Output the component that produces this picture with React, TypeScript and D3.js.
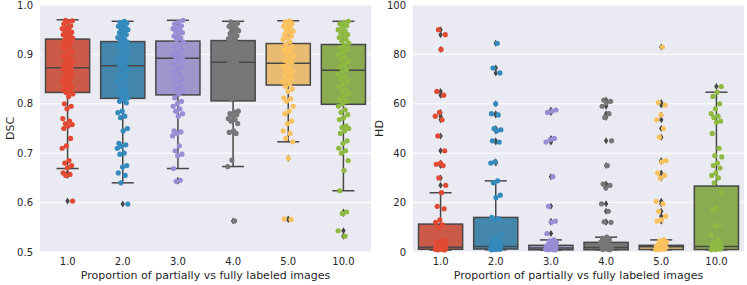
import React from "react";
import * as d3 from "d3";

// categories on the x axis and the ggplot-like palette
const categories = ["1.0", "2.0", "3.0", "4.0", "5.0", "10.0"];
const palette = ["#E24A33", "#348ABD", "#988ED5", "#777777", "#FBC15E", "#8EBA42"];

// DSC per image, one list per proportion
const dscPoints: number[][] = [
  [0.969, 0.968, 0.966, 0.962, 0.958, 0.955, 0.952, 0.95, 0.948, 0.945, 0.942, 0.94, 0.938, 0.935, 0.933,
    0.93, 0.928, 0.925, 0.922, 0.918, 0.915, 0.91, 0.905, 0.9, 0.897, 0.893, 0.89, 0.886, 0.882, 0.879, 0.876, 0.874,
    0.871, 0.868, 0.865, 0.862, 0.858, 0.855, 0.852, 0.848, 0.845, 0.842, 0.838, 0.835, 0.832, 0.828, 0.825, 0.823,
    0.82, 0.815, 0.8, 0.795, 0.79, 0.77, 0.765, 0.76, 0.758, 0.755, 0.75, 0.73, 0.715, 0.71, 0.685, 0.68, 0.675,
    0.67, 0.66, 0.657, 0.655, 0.603],
  [0.967, 0.965, 0.963, 0.96, 0.957, 0.954, 0.952, 0.95, 0.947, 0.944, 0.94, 0.937, 0.934, 0.93, 0.928,
    0.925, 0.921, 0.917, 0.913, 0.908, 0.903, 0.898, 0.894, 0.89, 0.886, 0.882, 0.879,
    0.875, 0.87, 0.865, 0.86, 0.855, 0.85, 0.845, 0.84, 0.835, 0.83, 0.826, 0.822, 0.818, 0.815, 0.812,
    0.808, 0.805, 0.802, 0.785, 0.782, 0.775, 0.772, 0.75, 0.745, 0.72, 0.717, 0.714, 0.71, 0.7, 0.698, 0.675,
    0.672, 0.66, 0.655, 0.64, 0.597],
  [0.969, 0.966, 0.962, 0.958, 0.955, 0.952, 0.95, 0.947, 0.944, 0.94, 0.937, 0.933, 0.93,
    0.925, 0.92, 0.915, 0.91, 0.905, 0.9, 0.896, 0.893,
    0.89, 0.885, 0.88, 0.875, 0.87, 0.865, 0.86, 0.855, 0.85, 0.845, 0.84, 0.835, 0.83, 0.825, 0.82,
    0.812, 0.805, 0.8, 0.795, 0.79, 0.785, 0.78, 0.775, 0.745, 0.743, 0.74, 0.735, 0.715, 0.705, 0.698, 0.695,
    0.669, 0.645, 0.643],
  [0.966, 0.963, 0.96, 0.957, 0.953, 0.95, 0.948, 0.945, 0.942, 0.938, 0.935, 0.932, 0.93,
    0.925, 0.915, 0.905, 0.895, 0.886, 0.884, 0.88, 0.87, 0.86, 0.85, 0.84, 0.83, 0.82, 0.81,
    0.785, 0.783, 0.78, 0.778, 0.775, 0.77, 0.768, 0.765, 0.76, 0.745, 0.742, 0.74, 0.686, 0.673, 0.563],
  [0.968, 0.966, 0.963, 0.96, 0.957, 0.954, 0.95, 0.947, 0.944, 0.94, 0.937, 0.933, 0.93, 0.926,
    0.92, 0.916, 0.912, 0.908, 0.904, 0.9, 0.896, 0.892, 0.888, 0.884,
    0.88, 0.876, 0.872, 0.868, 0.864, 0.86, 0.856, 0.852, 0.848, 0.844, 0.84,
    0.835, 0.83, 0.825, 0.812, 0.81, 0.805, 0.795, 0.785, 0.78, 0.765, 0.76, 0.745, 0.74, 0.73, 0.723, 0.69,
    0.567, 0.566],
  [0.967, 0.965, 0.962, 0.958, 0.955, 0.95, 0.947, 0.944, 0.94, 0.937, 0.934, 0.93, 0.927, 0.923,
    0.918, 0.914, 0.91, 0.905, 0.9, 0.895, 0.89, 0.885, 0.88, 0.875, 0.87,
    0.865, 0.86, 0.855, 0.85, 0.845, 0.84, 0.835, 0.83, 0.825, 0.82, 0.815, 0.81, 0.805, 0.8,
    0.795, 0.788, 0.783, 0.778, 0.772, 0.768, 0.755, 0.752, 0.75, 0.745, 0.74, 0.725, 0.72, 0.71, 0.705, 0.7,
    0.685, 0.665, 0.624, 0.581, 0.578, 0.543, 0.532],
];

// DSC box statistics
const dscQ1 = [0.823, 0.811, 0.818, 0.806, 0.838, 0.799];
const dscMedian = [0.873, 0.877, 0.892, 0.884, 0.882, 0.868];
const dscQ3 = [0.931, 0.926, 0.927, 0.928, 0.922, 0.92];
const dscWhiskerLo = [0.669, 0.64, 0.669, 0.673, 0.723, 0.624];
const dscWhiskerHi = [0.97, 0.967, 0.969, 0.967, 0.968, 0.967];

// HD per image
const hdPoints: number[][] = [
  [90, 88, 82, 65, 63.5, 56.5, 55, 53.5, 47, 41, 36, 35.5, 35, 30, 27, 24, 18.5, 17.5, 13, 12, 11, 10, 5, 4.5,
    4, 3.5, 3, 2.8, 2.5, 2.3, 2.1, 2, 1.9, 1.8, 1.7, 1.6, 1.5, 1.4, 1.3, 1.2, 1.1, 1.0, 0.9, 0.8],
  [84.5, 74.5, 72.5, 60, 56, 55.5, 50, 49.5, 49, 45, 44.5, 36.5, 36, 28.8, 28, 23, 22, 14, 13.5, 13, 7, 5.5, 5,
    4, 3.5, 3, 2.5, 2.3, 2.2, 2, 1.8, 1.6, 1.5, 1.4, 1.3, 1.2, 1.1, 1.0, 0.9],
  [57.5, 57, 56.5, 46, 45.5, 44.5, 30.5, 18.5, 12.5, 12, 7.5, 4.9, 4.5, 4, 3.5, 3, 2.7, 2.5, 2.2, 2, 1.8, 1.6,
    1.5, 1.4, 1.3, 1.2, 1.1, 1, 0.9, 0.8],
  [61.5, 61, 60.5, 59, 56, 54.5, 45, 35, 27.5, 27, 26, 19.5, 16.5, 12.2, 12, 6, 5.5, 5, 4.5, 4, 3.5, 3, 2.5,
    2.2, 2, 1.8, 1.6, 1.4, 1.2, 1, 0.9],
  [83, 60.5, 59.5, 55.5, 53.5, 50, 46.5, 37, 36.5, 32, 31, 30, 20.5, 19.5, 16.5, 14.5, 13, 12.5, 4.9, 4.5, 4,
    3.5, 3, 2.7, 2.5, 2.3, 2.1, 2, 1.8, 1.6, 1.4, 1.2, 1, 0.9],
  [67, 64.7, 63, 60, 58, 56, 55, 54.5, 53, 52.5, 48, 42, 39, 38.5, 36, 35, 34, 32, 31, 30, 28, 24, 18, 17, 11,
    10.5, 7, 5, 4, 3.5, 3, 2.5, 2.2, 2, 1.8, 1.6, 1.4, 1.2, 1, 0.9],
];

const hdQ1 = [1.1, 1.2, 0.9, 0.9, 1.0, 1.0];
const hdMedian = [1.9, 2.2, 1.6, 1.8, 2.1, 2.2];
const hdQ3 = [11.3, 14.0, 2.7, 3.9, 2.7, 26.7];
const hdWhiskerLo = [0.8, 0.9, 0.8, 0.9, 0.9, 0.9];
const hdWhiskerHi = [24, 28.8, 4.9, 6.0, 4.9, 64.7];

const dscTicks = [0.5, 0.6, 0.7, 0.8, 0.9, 1.0];
const hdTicks = [0, 20, 40, 60, 80, 100];

const xLabel = "Proportion of partially vs fully labeled images";
const FONT = "DejaVu Sans, sans-serif";
const LINE = "#474747";

interface PanelProps {
  x0: number;
  x1: number;
  yLabel: string;
  yLabelX: number;
  domain: [number, number];
  ticks: number[];
  fmt: (v: number) => string;
  points: number[][];
  q1: number[];
  median: number[];
  q3: number[];
  lo: number[];
  hi: number[];
}

// deterministic jitter in [-1, 1]
const jitter = (i: number) => ((i * 0.6180339887 + 0.31) % 1) * 2 - 1;

const Panel: React.FC<PanelProps> = (p) => {
  const top = 5;
  const bottom = 252;
  const x = d3.scaleBand<string>().domain(categories).range([p.x0, p.x1]).paddingInner(0.2).paddingOuter(0.1);
  const step = x.step();
  const bw = x.bandwidth();
  const y = d3.scaleLinear().domain(p.domain).range([bottom, top]);

  return (
    <g>
      <rect x={p.x0} y={top} width={p.x1 - p.x0} height={bottom - top} fill="#EAEAF2" />
      {p.ticks.map((t) => (
        <g key={t}>
          <line x1={p.x0} x2={p.x1} y1={y(t)} y2={y(t)} stroke="#fff" strokeWidth={1} />
          <text x={p.x0 - 7} y={y(t)} dy="0.35em" textAnchor="end" fontSize={10} fill="#262626" fontFamily={FONT}>
            {p.fmt(t)}
          </text>
        </g>
      ))}
      {categories.map((c, i) => {
        const cx = (x(c) ?? 0) + bw / 2;
        const base = d3.hsl(palette[i]);
        base.s *= 0.75;
        const fill = base.formatHex();
        const outliers = p.points[i].filter((v) => v > p.hi[i] || v < p.lo[i]);
        return (
          <g key={c}>
            <line x1={cx} x2={cx} y1={y(p.q3[i])} y2={y(p.hi[i])} stroke={LINE} strokeWidth={1.5} />
            <line x1={cx} x2={cx} y1={y(p.q1[i])} y2={y(p.lo[i])} stroke={LINE} strokeWidth={1.5} />
            <line x1={cx - bw / 4} x2={cx + bw / 4} y1={y(p.hi[i])} y2={y(p.hi[i])} stroke={LINE} strokeWidth={1.5} />
            <line x1={cx - bw / 4} x2={cx + bw / 4} y1={y(p.lo[i])} y2={y(p.lo[i])} stroke={LINE} strokeWidth={1.5} />
            <rect
              x={x(c)}
              y={y(p.q3[i])}
              width={bw}
              height={y(p.q1[i]) - y(p.q3[i])}
              fill={fill}
              stroke={LINE}
              strokeWidth={1.5}
            />
            <line x1={x(c)} x2={(x(c) ?? 0) + bw} y1={y(p.median[i])} y2={y(p.median[i])} stroke={LINE} strokeWidth={1.5} />
            {outliers.map((v, k) => (
              <path
                key={k}
                d={`M${cx},${y(v) - 3.5}L${cx + 2.2},${y(v)}L${cx},${y(v) + 3.5}L${cx - 2.2},${y(v)}Z`}
                fill={LINE}
              />
            ))}
          </g>
        );
      })}
      {categories.map((c, i) => {
        const cx = (x(c) ?? 0) + bw / 2;
        return (
          <g key={"pts" + c}>
            {p.points[i].map((v, k) => (
              <circle key={k} cx={cx + jitter(k + i * 7) * step * 0.1} cy={y(v)} r={2.6} fill={palette[i]} />
            ))}
          </g>
        );
      })}
      {categories.map((c) => (
        <text
          key={"xl" + c}
          x={(x(c) ?? 0) + bw / 2}
          y={265}
          textAnchor="middle"
          fontSize={10}
          fill="#262626"
          fontFamily={FONT}
        >
          {c}
        </text>
      ))}
      <text x={(p.x0 + p.x1) / 2} y={279} textAnchor="middle" fontSize={11} fill="#262626" fontFamily={FONT}>
        {xLabel}
      </text>
      <text
        transform={`translate(${p.yLabelX},${(top + bottom) / 2}) rotate(-90)`}
        textAnchor="middle"
        dy="0.35em"
        fontSize={11}
        fill="#262626"
        fontFamily={FONT}
      >
        {p.yLabel}
      </text>
    </g>
  );
};

export default function App() {
  return (
    <svg width={747} height={285} style={{ position: "absolute", left: 0, top: 0, background: "#fff" }}>
      <Panel
        x0={40}
        x1={371}
        yLabel="DSC"
        yLabelX={10}
        domain={[0.5, 1.0]}
        ticks={dscTicks}
        fmt={d3.format(".1f")}
        points={dscPoints}
        q1={dscQ1}
        median={dscMedian}
        q3={dscQ3}
        lo={dscWhiskerLo}
        hi={dscWhiskerHi}
      />
      <Panel
        x0={413}
        x1={744}
        yLabel="HD"
        yLabelX={379}
        domain={[0, 100]}
        ticks={hdTicks}
        fmt={d3.format("d")}
        points={hdPoints}
        q1={hdQ1}
        median={hdMedian}
        q3={hdQ3}
        lo={hdWhiskerLo}
        hi={hdWhiskerHi}
      />
    </svg>
  );
}
